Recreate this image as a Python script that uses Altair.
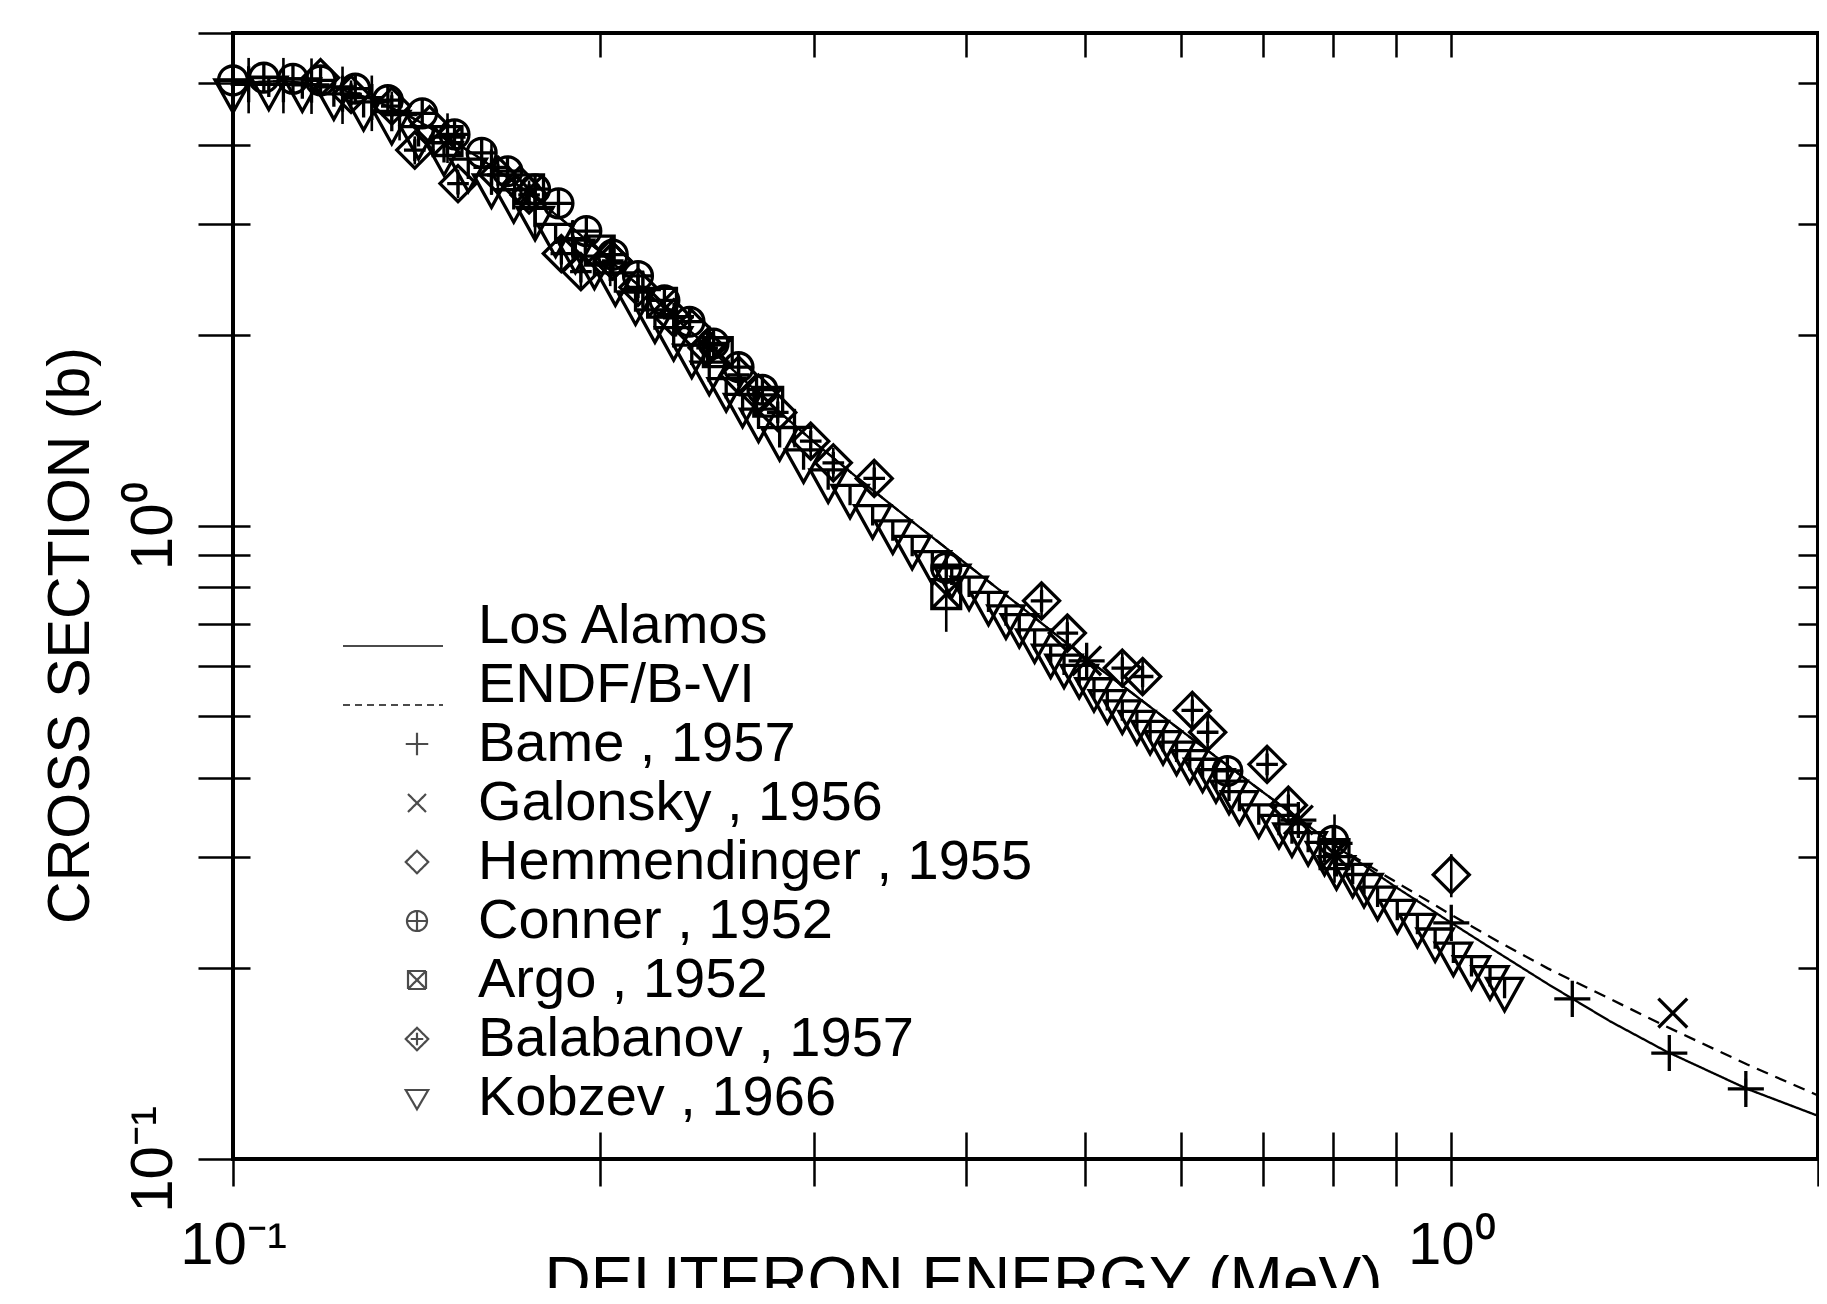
import altair as alt
import pandas as pd

SANS = "Liberation Sans, Arial, Helvetica"

# ---------------- evaluated curves ----------------
la_x = [0.10, 0.11, 0.12, 0.13, 0.14, 0.15, 0.16, 0.17, 0.18, 0.19, 0.20, 0.22, 0.24, 0.26, 0.28, 0.30,
        0.33, 0.36, 0.40, 0.45, 0.50, 0.55, 0.60, 0.70, 0.80, 0.90, 1.00, 1.10, 1.20, 1.35, 1.50, 1.75, 2.00]
la_y = [5.00, 5.04, 4.95, 4.72, 4.42, 4.10, 3.79, 3.49, 3.21, 2.95, 2.71, 2.31, 1.99, 1.73, 1.52, 1.355,
        1.165, 1.02, 0.87, 0.728, 0.620, 0.540, 0.475, 0.380, 0.314, 0.269, 0.236, 0.210, 0.189, 0.165, 0.148, 0.129, 0.117]
endf_x = [0.10, 0.11, 0.12, 0.13, 0.14, 0.15, 0.16, 0.17, 0.18, 0.19, 0.20, 0.22, 0.24, 0.26, 0.28, 0.30,
          0.33, 0.36, 0.40, 0.45, 0.50, 0.55, 0.60, 0.70, 0.80, 0.90, 1.00, 1.10, 1.20, 1.35, 1.50, 1.75, 2.00]
endf_y = [5.00, 5.04, 4.95, 4.72, 4.42, 4.10, 3.79, 3.49, 3.21, 2.95, 2.71, 2.31, 1.99, 1.73, 1.52, 1.355,
          1.165, 1.02, 0.87, 0.728, 0.620, 0.540, 0.475, 0.380, 0.314, 0.274, 0.243, 0.219, 0.200, 0.179, 0.162, 0.141, 0.126]

# ---------------- experiments ----------------
bame_x = [0.103, 0.110, 0.116, 0.123, 0.130, 0.137, 0.150, 0.163, 0.177, 0.190, 0.204, 0.217, 0.231, 0.246,
          0.269, 0.289, 0.502, 0.749, 0.802, 1.000, 1.257, 1.510, 1.745]
bame_y = [4.98, 4.98, 4.97, 4.81, 4.67, 4.46, 4.11, 3.68, 3.17, 2.84, 2.60, 2.36, 2.14, 1.93,
          1.61, 1.43, 0.612, 0.343, 0.315, 0.236, 0.179, 0.147, 0.129]
bame_err = [0.50, 0.50, 0.50, 0.50, 0.47, 0.40, 0.37, 0.35, 0.32, 0.20, 0.21, 0.17, 0.15, 0.14,
            0.11, 0.10, 0.035, 0.012, 0.035, 0.008, 0.006, 0.005, 0.005]

galonsky_x = [0.502, 0.749, 1.52]
galonsky_y = [0.612, 0.343, 0.170]

hemm_x = [0.118, 0.145, 0.172, 0.205, 0.238, 0.270, 1.000]
hemm_y = [5.10, 4.30, 3.45, 2.62, 2.05, 1.62, 0.281]
hemm_err = [0, 0, 0, 0, 0, 0, 0.022]

conner_x = [0.100, 0.106, 0.112, 0.118, 0.126, 0.134, 0.143, 0.152, 0.160, 0.168, 0.177, 0.185, 0.195,
            0.205, 0.215, 0.226, 0.237, 0.248, 0.260, 0.272, 0.385, 0.655, 0.800]
conner_y = [5.05, 5.10, 5.08, 5.05, 4.90, 4.70, 4.48, 4.15, 3.88, 3.63, 3.40, 3.23, 2.92,
            2.68, 2.48, 2.27, 2.10, 1.94, 1.78, 1.64, 0.858, 0.410, 0.318]

argo_x = [0.150, 0.175, 0.200, 0.225, 0.250, 0.275, 0.385, 0.802]
argo_y = [4.05, 3.40, 2.72, 2.25, 1.88, 1.57, 0.780, 0.303]
argo_err = [0, 0, 0, 0, 0, 0, 0.10, 0.03]

bala_x = [0.125, 0.135, 0.141, 0.153, 0.165, 0.175, 0.186, 0.193, 0.205, 0.215, 0.230, 0.245, 0.260,
          0.280, 0.298, 0.311, 0.336, 0.461, 0.484, 0.537, 0.558, 0.613, 0.631, 0.706, 0.735]
bala_y = [4.80, 4.60, 3.92, 3.47, 3.58, 3.33, 2.69, 2.52, 2.62, 2.38, 2.13, 1.91, 1.73,
          1.51, 1.36, 1.257, 1.188, 0.761, 0.677, 0.596, 0.578, 0.511, 0.472, 0.420, 0.362]
bala_err = [0.25, 0.25, 0.20, 0.18, 0.20, 0.18, 0.15, 0.14, 0.14, 0.13, 0.12, 0.11, 0.10,
            0.09, 0.08, 0.07, 0.07, 0.045, 0.04, 0.035, 0.035, 0.03, 0.03, 0.025, 0.022]

kob_x = [0.100, 0.107, 0.114, 0.121, 0.128, 0.135, 0.142, 0.149, 0.156, 0.163, 0.170, 0.177, 0.184, 0.191,
         0.198, 0.206, 0.214, 0.222, 0.230, 0.238, 0.246, 0.254, 0.262, 0.270, 0.281, 0.294, 0.308, 0.321,
         0.335, 0.348, 0.361, 0.375, 0.389, 0.402, 0.417, 0.431, 0.442, 0.455, 0.469, 0.481, 0.495, 0.509,
         0.522, 0.537, 0.552, 0.566, 0.580, 0.595, 0.610, 0.625, 0.641, 0.657, 0.670, 0.695, 0.722, 0.740,
         0.763, 0.787, 0.805, 0.830, 0.848, 0.870, 0.903, 0.938, 0.970, 1.004, 1.039, 1.076, 1.106]
kob_y = [4.80, 4.85, 4.82, 4.68, 4.50, 4.28, 4.05, 3.82, 3.60, 3.40, 3.22, 3.02, 2.84, 2.68,
         2.53, 2.38, 2.22, 2.08, 1.95, 1.83, 1.72, 1.62, 1.53, 1.45, 1.356, 1.25, 1.163, 1.099,
         1.021, 0.966, 0.913, 0.864, 0.822, 0.787, 0.745, 0.709, 0.687, 0.650, 0.615, 0.593, 0.571, 0.544,
         0.521, 0.502, 0.483, 0.466, 0.449, 0.432, 0.419, 0.406, 0.391, 0.375, 0.361, 0.344, 0.331, 0.321,
         0.311, 0.300, 0.285, 0.277, 0.267, 0.255, 0.243, 0.231, 0.219, 0.208, 0.198, 0.191, 0.183]

legend_names = ["Los Alamos", "ENDF/B-VI", "Bame , 1957", "Galonsky , 1956", "Hemmendinger , 1955",
                "Conner , 1952", "Argo , 1952", "Balabanov , 1957", "Kobzev , 1966"]
curve_names = legend_names[:2]
exp_names = legend_names[2:]

x_ticks_bottom = [0.1, 0.2, 0.3, 0.4, 0.5, 0.6, 0.7, 0.8, 0.9, 1.0, 2.0]
x_ticks_top = [0.2, 0.3, 0.4, 0.5, 0.6, 0.7, 0.8, 0.9, 1.0]
y_ticks_left = [0.1, 0.2, 0.3, 0.4, 0.5, 0.6, 0.7, 0.8, 0.9, 1, 2, 3, 4, 5, 6]
y_ticks_right = [0.2, 0.3, 0.4, 0.5, 0.6, 0.7, 0.8, 0.9, 1, 2, 3, 4, 5]

# ---------------- marker paths ----------------
plot_paths = [
    "M-1,0L1,0M0,-1L0,1",                                                    # +
    "M-0.8,-0.8L0.8,0.8M-0.8,0.8L0.8,-0.8",                                  # x
    "M0,-1L1,0L0,1L-1,0Z",                                                   # diamond
    "M-0.8,0A0.8,0.8,0,1,1,0.8,0A0.8,0.8,0,1,1,-0.8,0ZM-0.8,0L0.8,0M0,-0.8L0,0.8",  # circle plus
    "M-0.8,-0.8L0.8,-0.8L0.8,0.8L-0.8,0.8ZM-0.8,-0.8L0.8,0.8M-0.8,0.8L0.8,-0.8",    # square x
    "M0,-1L1,0L0,1L-1,0ZM-0.6,0L0.6,0M0,-0.6L0,0.6",                         # diamond plus
    "M-1,-0.8L1,-0.8L0,1ZM0,-0.8L0,0.3",                                     # triangle down
]
legend_paths = [
    "M-2.96,0.8L1.04,0.8",
    "M-2.96,0.8L1.04,0.8",
    "M-0.45,0L0.45,0M0,-0.45L0,0.45",
    "M-0.36,-0.36L0.36,0.36M-0.36,0.36L0.36,-0.36",
    "M0,-0.45L0.45,0L0,0.45L-0.45,0Z",
    "M-0.4,0A0.4,0.4,0,1,1,0.4,0A0.4,0.4,0,1,1,-0.4,0ZM-0.4,0L0.4,0M0,-0.4L0,0.4",
    "M-0.36,-0.36L0.36,-0.36L0.36,0.36L-0.36,0.36ZM-0.36,-0.36L0.36,0.36M-0.36,0.36L0.36,-0.36",
    "M0,-0.45L0.45,0L0,0.45L-0.45,0ZM-0.25,0L0.25,0M0,-0.25L0,0.25",
    "M-0.45,-0.32L0.45,-0.32L0,0.45Z",
]
legend_dash = [[1, 0], [7, 5], [1, 0], [1, 0], [1, 0], [1, 0], [1, 0], [1, 0], [1, 0]]

# ---------------- tables ----------------
curve_rows = []
for name, xs, ys in [("ENDF/B-VI", endf_x, endf_y), ("Los Alamos", la_x, la_y)]:
    for i, (xv, yv) in enumerate(zip(xs, ys)):
        curve_rows.append({"series": name, "x": xv, "y": yv, "i": i})
curves = pd.DataFrame(curve_rows)

pt_rows = []
def add(name, xs, ys, errs=None):
    for k, (xv, yv) in enumerate(zip(xs, ys)):
        e = errs[k] if errs is not None else 0
        pt_rows.append({"series": name, "x": xv, "y": yv, "lo": yv - e, "hi": yv + e, "err": e})

add("Bame , 1957", bame_x, bame_y, bame_err)
add("Galonsky , 1956", galonsky_x, galonsky_y)
add("Hemmendinger , 1955", hemm_x, hemm_y, hemm_err)
add("Conner , 1952", conner_x, conner_y)
add("Argo , 1952", argo_x, argo_y, argo_err)
add("Balabanov , 1957", bala_x, bala_y, bala_err)
add("Kobzev , 1966", kob_x, kob_y)
points = pd.DataFrame(pt_rows)
errbars = points[points["err"] > 0]

legend_df = pd.DataFrame({"series": legend_names})

xscale = alt.Scale(type="log", domain=[0.1, 2.0], nice=False)
yscale = alt.Scale(type="log", domain=[0.1, 6.0], nice=False)

lab_expr = "datum.value == 1 ? '10\u2070' : (datum.value == 0.1 ? '10\u207b\u00b9' : '')"

x_axis_main = alt.Axis(
    orient="bottom", values=x_ticks_bottom, labelExpr=lab_expr, offset=-27, tickSize=54,
    tickWidth=2.5, tickColor="black", domain=False, grid=False,
    labelFont=SANS, labelFontSize=60, labelColor="black", labelPadding=30,
    labelOverlap=False, labelFlush=False, labelBaseline="top", labelAlign="center",
    title="DEUTERON ENERGY (MeV)", titleFont=SANS, titleFontSize=64, titleFontWeight="normal",
    titleColor="black", titleX=730, titleY=118, titleAlign="center", titleBaseline="top",
)
y_axis_main = alt.Axis(
    orient="left", values=y_ticks_left, labelExpr=lab_expr, offset=-17, tickSize=52,
    tickWidth=2.5, tickColor="black", domain=False, grid=False,
    labelFont=SANS, labelFontSize=60, labelColor="black", labelPadding=14,
    labelOverlap=False, labelFlush=False, labelAngle=270, labelAlign="center", labelBaseline="bottom",
    title="CROSS SECTION (b)", titleFont=SANS, titleFontSize=59, titleFontWeight="normal",
    titleColor="black", titleAngle=270, titleAlign="center", titleBaseline="middle",
    titleX=-180, titleY=602,
)
x_axis_top = alt.Axis(orient="top", values=x_ticks_top, offset=-24, tickSize=24, tickWidth=2.5,
                      tickColor="black", labels=False, domain=False, grid=False, title=None)
y_axis_right = alt.Axis(orient="right", values=y_ticks_right, offset=-20, tickSize=20, tickWidth=2.5,
                        tickColor="black", labels=False, domain=False, grid=False, title=None)

lines = alt.Chart(curves).mark_line(color="black", strokeWidth=2.3).encode(
    x=alt.X("x:Q", scale=xscale, axis=x_axis_main),
    y=alt.Y("y:Q", scale=yscale, axis=y_axis_main),
    strokeDash=alt.StrokeDash("series:N", scale=alt.Scale(domain=curve_names, range=[[1, 0], [12, 8]]),
                              legend=None),
    order="i:Q",
)

bars = alt.Chart(errbars).mark_rule(color="black", strokeWidth=2.6).encode(
    x=alt.X("x:Q", scale=xscale, axis=None),
    y=alt.Y("lo:Q", scale=yscale, axis=None),
    y2="hi:Q",
)

pts = alt.Chart(points).mark_point(filled=False, color="black", strokeWidth=3.3, size=1300, opacity=1).encode(
    x=alt.X("x:Q", scale=xscale, axis=x_axis_top),
    y=alt.Y("y:Q", scale=yscale, axis=y_axis_right),
    shape=alt.Shape("series:N", scale=alt.Scale(domain=exp_names, range=plot_paths), legend=None),
)

leg = alt.Legend(orient="none", legendX=156, legendY=565, title=None, labelFont=SANS, labelFontSize=56,
                 labelColor="black", labelLimit=0, symbolSize=2500, symbolStrokeWidth=2.2,
                 symbolStrokeColor="black", labelOffset=33, rowPadding=3, padding=0)

legend_layer = alt.Chart(legend_df).mark_point(filled=False, color="black", strokeWidth=2.2).encode(
    shape=alt.Shape("series:N", scale=alt.Scale(domain=legend_names, range=legend_paths), legend=leg),
    strokeDash=alt.StrokeDash("series:N", scale=alt.Scale(domain=legend_names, range=legend_dash), legend=leg),
).transform_filter("false")

chart = alt.layer(lines, bars, pts, legend_layer).resolve_scale(
    shape="independent", strokeDash="independent"
).resolve_axis(x="independent", y="independent").properties(
    width=1585, height=1126,
    autosize=alt.AutoSizeParams(type="none"),
    padding={"left": 225, "top": 25, "right": 1, "bottom": 129},
).configure_view(stroke="black", strokeWidth=4)

chart.save("out.html", embed_options={"renderer": "svg", "actions": False})
